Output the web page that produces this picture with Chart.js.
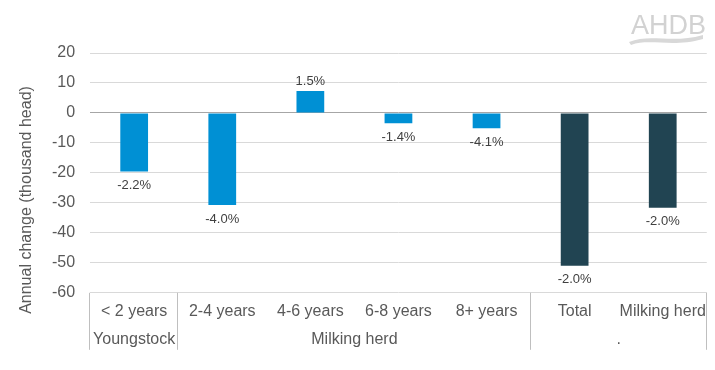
<!DOCTYPE html>
<html>
<head>
<meta charset="utf-8">
<script src="https://cdn.jsdelivr.net/npm/chart.js@4"></script>
<style>
  html, body { margin: 0; padding: 0; background: #fff; }
  #wrap { width: 715px; height: 370px; }
</style>
</head>
<body>
<div id="wrap"><canvas id="mycanvas"></canvas></div>
<script>
// chart data
var categories = ['< 2 years', '2-4 years', '4-6 years', '6-8 years', '8+ years', 'Total', 'Milking herd'];
var changeValues = [-19.5, -30.7, 7.3, -3.4, -5.1, -51.0, -31.6];
var pctLabels = ['-2.2%', '-4.0%', '1.5%', '-1.4%', '-4.1%', '-2.0%', '-2.0%'];
var groupNames = ['Youngstock', 'Milking herd', '.'];
var groupSpans = [1, 4, 2];
var yTicks = [20, 10, 0, -10, -20, -30, -40, -50, -60];
var yTitle = 'Annual change (thousand head)';

var barColours = ['#0090d4', '#0090d4', '#0090d4', '#0090d4', '#0090d4', '#214452', '#214452'];
var fontFamily = '"Liberation Sans", Arial, sans-serif';

// value labels at the end of each bar
var valueLabels = {
	id: 'valueLabels',
	afterDatasetsDraw: function(chart) {
		var ctx = chart.ctx;
		var meta = chart.getDatasetMeta(0);
		ctx.save();
		ctx.font = '13px ' + fontFamily;
		ctx.fillStyle = '#404040';
		ctx.textAlign = 'center';
		ctx.textBaseline = 'middle';
		meta.data.forEach(function(bar, i) {
			var v = changeValues[i];
			var y = v < 0 ? bar.y + 14 : bar.y - 10;
			ctx.fillText(pctLabels[i], bar.x, y);
		});
		ctx.restore();
	}
};

// group row + separators under the category axis, y title and the logo
var groupAxis = {
	id: 'groupAxis',
	afterDraw: function(chart) {
		var ctx = chart.ctx;
		var area = chart.chartArea;
		var xs = chart.scales.x;
		var step = (area.right - area.left) / categories.length;
		var top = area.bottom, bottom = area.bottom + 57;
		ctx.save();
		ctx.strokeStyle = '#bfbfbf';
		ctx.lineWidth = 1;
		ctx.font = '16px ' + fontFamily;
		ctx.fillStyle = '#595959';
		ctx.textAlign = 'center';
		ctx.textBaseline = 'middle';
		var start = 0;
		var edges = [xs.getPixelForValue(0) - step / 2];
		groupSpans.forEach(function(n, g) {
			var x0 = xs.getPixelForValue(start) - step / 2;
			var x1 = xs.getPixelForValue(start + n - 1) + step / 2;
			edges.push(x1);
			ctx.fillText(groupNames[g], (x0 + x1) / 2, area.bottom + 47);
			start += n;
		});
		edges.forEach(function(x) {
			x = Math.round(x) - 0.5;
			ctx.beginPath();
			ctx.moveTo(x, top);
			ctx.lineTo(x, bottom);
			ctx.stroke();
		});

		// y axis title, centred like the original (over axis + category rows)
		ctx.save();
		ctx.translate(27, 200);
		ctx.rotate(-Math.PI / 2);
		ctx.fillText(yTitle, 0, 0);
		ctx.restore();

		// AHDB logo
		ctx.fillStyle = '#d2d2d2';
		ctx.font = '27px ' + fontFamily;
		ctx.textAlign = 'left';
		ctx.textBaseline = 'alphabetic';
		ctx.fillText('AHDB', 631, 34);
		ctx.fillStyle = '#d8d8d8';
		ctx.beginPath();
		ctx.moveTo(629, 42);
		ctx.bezierCurveTo(650, 33, 672, 44, 703, 35);
		ctx.lineTo(703, 39);
		ctx.bezierCurveTo(672, 48, 650, 38, 631, 45);
		ctx.closePath();
		ctx.fill();
		ctx.restore();
	}
};

var ctx = document.getElementById('mycanvas');
var barGraph = new Chart(ctx, {
	type: 'bar',
	data: {
		labels: categories,
		datasets: [{
			label: 'Annual change',
			data: changeValues,
			backgroundColor: barColours,
			categoryPercentage: 1,
			barPercentage: 0.315
		}]
	},
	options: {
		responsive: true,
		maintainAspectRatio: false,
		animation: false,
		layout: { padding: { top: 53, right: 2, bottom: 40, left: 37 } },
		plugins: {
			legend: { display: false },
			tooltip: { enabled: false }
		},
		scales: {
			x: {
				grid: { display: false, drawTicks: false },
				border: { display: false },
				ticks: {
					padding: 9,
					color: '#595959',
					font: { family: fontFamily, size: 16 },
					maxRotation: 0,
					autoSkip: false
				}
			},
			y: {
				min: -60,
				max: 20,
				afterBuildTicks: function(axis) {
					axis.ticks = yTicks.map(function(v) { return { value: v }; });
				},
				grid: {
					drawTicks: false,
					color: function(c) { return c.tick.value === 0 ? '#a6a6a6' : '#d9d9d9'; }
				},
				border: { display: false },
				ticks: {
					padding: 15,
					color: '#595959',
					font: { family: fontFamily, size: 16 }
				}
			}
		}
	},
	plugins: [valueLabels, groupAxis]
});
</script>
</body>
</html>
